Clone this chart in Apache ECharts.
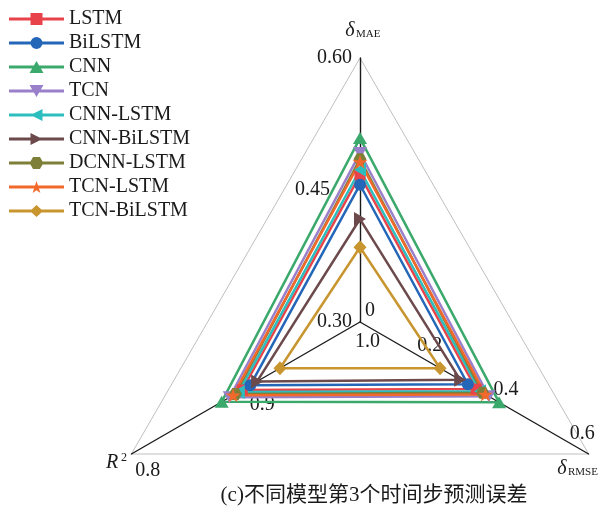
<!DOCTYPE html>
<html>
<head>
<meta charset="utf-8">
<script src="https://cdn.jsdelivr.net/npm/echarts@6/dist/echarts.min.js"></script>
<style>html,body{margin:0;padding:0;background:#fff;}#chart{width:599px;height:518px;}</style>
</head>
<body>
<div id="chart"></div>
<script>
// ---- data ----
const models = ['LSTM', 'BiLSTM', 'CNN', 'TCN', 'CNN-LSTM', 'CNN-BiLSTM', 'DCNN-LSTM', 'TCN-LSTM', 'TCN-BiLSTM'];
const maeVals  = [0.467, 0.456, 0.509, 0.492, 0.473, 0.417, 0.485, 0.482, 0.385];
const rmseVals = [0.305, 0.283, 0.365, 0.338, 0.315, 0.263, 0.322, 0.329, 0.210];
const r2Vals   = [0.897, 0.904, 0.879, 0.886, 0.894, 0.910, 0.891, 0.889, 0.930];
const maeRange = [0.30, 0.60];
const rmseRange = [0, 0.6];
const r2Range = [1.0, 0.8];   // centre -> outer (inverted axis)
const maeTickLabels = ['0.30', '0.45', '0.60'];
const rmseTickLabels = ['0', '0.2', '0.4', '0.6'];
const r2TickLabels = ['1.0', '0.9', '0.8'];
const caption = '(c)不同模型第3个时间步预测误差';

// ---- styles ----
const colors = ['#E8434A', '#2467B8', '#3BA96C', '#9A80CA', '#2CBEBF', '#6C4A4C', '#7E7F39', '#F2692B', '#C8952F'];
const serif = "'Liberation Serif', 'Times New Roman', serif";
const LINE = 'M0 4.6 L55 4.6 L55 7.4 L0 7.4 Z ';
const legendMarks = [
  'M21.5 0 L33.5 0 L33.5 12 L21.5 12 Z',
  'M21.5 6 A6 6 0 1 1 33.5 6 A6 6 0 1 1 21.5 6 Z',
  'M27.5 0 L34.5 12 L20.5 12 Z',
  'M20.5 0 L34.5 0 L27.5 12 Z',
  'M21.5 6 L33.5 0 L33.5 12 Z',
  'M21.5 0 L33.5 6 L21.5 12 Z',
  'M24.04 0 L30.96 0 L34.43 6 L30.96 12 L24.04 12 L20.57 6 Z',
  'M27.5 0 L28.99 4.583 L33.81 4.583 L29.91 7.416 L31.4 12 L27.5 9.167 L23.6 12 L25.09 7.416 L21.19 4.583 L26.01 4.583 Z',
  'M27.5 0 L34 6 L27.5 12 L21 6 Z'
];
const seriesSymbols = [
  ['rect', 11],
  ['circle', 12],
  ['triangle', [14, 12]],
  ['path://M0 0 L14 0 L7 12 Z', [14, 12]],
  ['path://M0 7 L12 0 L12 14 Z', [12, 14]],
  ['path://M0 0 L12 7 L0 14 Z', [12, 14]],
  ['path://M3.46 0 L10.39 0 L13.86 6 L10.39 12 L3.46 12 L0 6 Z', [13, 12]],
  ['path://M10 0 L12.245 6.91 L19.511 6.91 L13.633 11.18 L15.878 18.09 L10 13.82 L4.122 18.09 L6.367 11.18 L0.489 6.91 L7.755 6.91 Z', [15, 14]],
  ['diamond', [13, 14]]
];

const splitN = 6;
const lblFont = { fontFamily: serif, fontSize: 20, color: '#1a1a1a' };

const indicators = [
  {
    name: 'MAE', min: maeRange[0], max: maeRange[1],
    axisLabel: {
      show: true, margin: 8,
      rich: { p: Object.assign({ padding: [0, 22, 0, 0] }, lblFont) },
      formatter: function (v, i) {
        if (i % 3 !== 0) return '';
        const t = maeTickLabels[i / 3];
        return i === 3 ? '{p|' + t + '}' : t;
      }
    }
  },
  {
    name: 'R2', min: -r2Range[0], max: -r2Range[1],
    axisLabel: {
      show: true, margin: 8, verticalAlign: 'top',
      rich: { c: Object.assign({ width: 16, align: 'right', padding: [3, 0, 0, 0] }, lblFont) },
      formatter: function (v, i) {
        if (i % 3 !== 0) return '';
        const t = r2TickLabels[i / 3];
        return i === 0 ? '{c|' + t + '}' : t;
      }
    }
  },
  {
    name: 'RMSE', min: rmseRange[0], max: rmseRange[1],
    axisLabel: {
      show: true, margin: 12, align: 'right', verticalAlign: 'bottom',
      rich: { z: Object.assign({ width: 1, align: 'left', lineHeight: 1 }, lblFont) },
      formatter: function (v, i) {
        if (i % 2 !== 0) return '';
        const t = rmseTickLabels[i / 2];
        return i === 0 ? '{z|' + t + '}' : t;
      }
    }
  }
];

const series = models.map(function (m, k) {
  return {
    type: 'radar',
    name: m,
    symbol: seriesSymbols[k][0],
    symbolSize: seriesSymbols[k][1],
    lineStyle: { color: colors[k], width: 2.5 },
    itemStyle: { color: colors[k], borderWidth: 0 },
    data: [{ name: m, value: [maeVals[k], -r2Vals[k], rmseVals[k]] }]
  };
});

const chart = echarts.init(document.getElementById('chart'), null, { renderer: 'canvas' });
chart.setOption({
  animation: false,
  color: colors,
  legend: {
    orient: 'vertical', left: 4, top: 4,
    itemWidth: 55, itemHeight: 12, itemGap: 4,
    itemStyle: { borderWidth: 0 },
    textStyle: { fontFamily: serif, fontSize: 20, color: '#1a1a1a' },
    data: models.map(function (m, k) { return { name: m, icon: 'path://' + LINE + legendMarks[k] }; })
  },
  radar: {
    center: [360, 322], radius: 264, shape: 'polygon', startAngle: 90,
    splitNumber: splitN,
    indicator: indicators,
    axisName: { show: false },
    axisLine: { lineStyle: { color: '#1a1a1a', width: 1.4 } },
    splitLine: { lineStyle: { color: ['rgba(0,0,0,0)', 'rgba(0,0,0,0)', 'rgba(0,0,0,0)', 'rgba(0,0,0,0)', 'rgba(0,0,0,0)', 'rgba(0,0,0,0)', '#bfbfbf'], width: 1 } },
    splitArea: { show: false },
    axisTick: { show: false },
    axisLabel: { show: false, fontFamily: serif, fontSize: 20, color: '#1a1a1a' }
  },
  graphic: [
    { type: 'text', x: 350, y: 31, style: { text: 'δ', font: 'italic 20px ' + serif, fill: '#1a1a1a', align: 'center', verticalAlign: 'middle' } },
    { type: 'text', x: 356, y: 34, style: { text: 'MAE', font: '11px ' + serif, fill: '#1a1a1a', align: 'left', verticalAlign: 'middle' } },
    { type: 'text', x: 562, y: 469, style: { text: 'δ', font: 'italic 20px ' + serif, fill: '#1a1a1a', align: 'center', verticalAlign: 'middle' } },
    { type: 'text', x: 568, y: 472, style: { text: 'RMSE', font: '11px ' + serif, fill: '#1a1a1a', align: 'left', verticalAlign: 'middle' } },
    { type: 'text', x: 112, y: 463, style: { text: 'R', font: 'italic 20px ' + serif, fill: '#1a1a1a', align: 'center', verticalAlign: 'middle' } },
    { type: 'text', x: 121, y: 458, style: { text: '2', font: '12px ' + serif, fill: '#1a1a1a', align: 'left', verticalAlign: 'middle' } },
    { type: 'text', x: 374, y: 495, style: { text: caption, font: "21px 'Liberation Serif', 'Noto Sans CJK SC', serif", fill: '#1a1a1a', align: 'center', verticalAlign: 'middle' } }
  ],
  series: series
});
</script>
</body>
</html>
